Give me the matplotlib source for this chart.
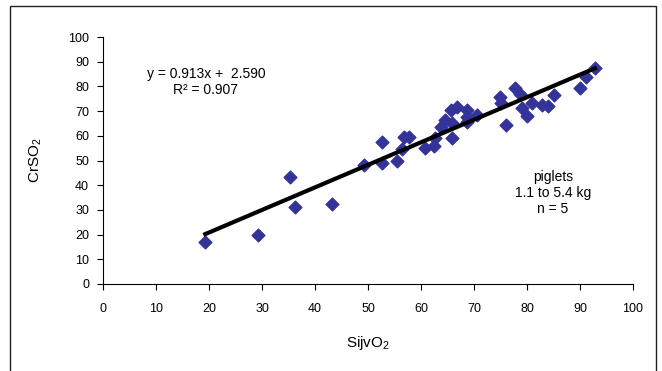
import matplotlib.pyplot as plt
from matplotlib.patches import Rectangle
import numpy as np

plt.rcParams['font.family'] = ['Liberation Sans', 'DejaVu Sans']
plt.rcParams['mathtext.fontset'] = 'custom'
plt.rcParams['mathtext.rm'] = 'Liberation Sans'

# SijvO2 vs CrSO2
sijvo2 = [19.3, 29.2, 35.3, 36.2, 43.3, 49.2, 52.6, 52.6, 55.5, 56.4,
          56.7, 57.7, 60.7, 62.5, 62.6, 63.7, 64.6, 65.6, 66.8, 65.8,
          65.9, 68.6, 68.6, 68.7, 70.6, 74.9, 75.0, 76.0, 77.8, 78.7,
          79.0, 80.0, 81.0, 82.9, 84.0, 85.0, 90.0, 91.2, 92.8]
crso2 = [17.0, 20.0, 43.3, 31.2, 32.3, 48.2, 49.0, 57.3, 50.0, 54.5,
         59.4, 59.4, 54.9, 56.0, 59.0, 63.5, 66.3, 70.6, 71.5, 65.0,
         59.3, 70.4, 67.5, 65.5, 68.5, 75.6, 73.3, 64.4, 79.3, 76.8,
         71.3, 68.0, 73.2, 72.5, 72.2, 76.5, 79.2, 84.0, 87.3]

slope = 0.913
intercept = 2.590
r2 = 0.907

fig = plt.figure(figsize=(6.62, 3.71), dpi=100)
ax = fig.add_axes([103/662, 1 - 284/371, 530/662, 247/371])

ax.scatter(sijvo2, crso2, marker='D', s=42, color='#333399', zorder=3)
xs = np.array([min(sijvo2), max(sijvo2)])
ax.plot(xs, slope * xs + intercept, color='black', lw=3, zorder=4)

ax.set_xlim(0, 100)
ax.set_ylim(0, 100)
ax.set_xticks(range(0, 101, 10))
ax.set_yticks(range(0, 101, 10))
ax.tick_params(labelsize=9, length=4, width=0.8)
ax.tick_params(axis='x', pad=10)
ax.tick_params(axis='y', pad=6)
for s in ['top', 'right']:
    ax.spines[s].set_visible(False)
ax.set_xlabel('SijvO$_\\mathrm{2}$', fontsize=11, labelpad=13)
ax.set_ylabel('CrSO$_\\mathrm{2}$', fontsize=11, labelpad=17)

ax.text(19.4, 81.8, f'y = {slope}x +  {intercept:.3f}\nR² = {r2}',
        fontsize=10, ha='center', va='center', linespacing=1.15)
ax.text(84.9, 36.8, 'piglets\n1.1 to 5.4 kg\nn = 5',
        fontsize=10, ha='center', va='center', linespacing=1.15)

# outer chart frame
fig.add_artist(Rectangle((10/662, -0.1), 646/662, 1.1 - 6/371,
                         transform=fig.transFigure, fill=False,
                         edgecolor='#222222', lw=1))

fig.savefig('out.png', dpi=100)
